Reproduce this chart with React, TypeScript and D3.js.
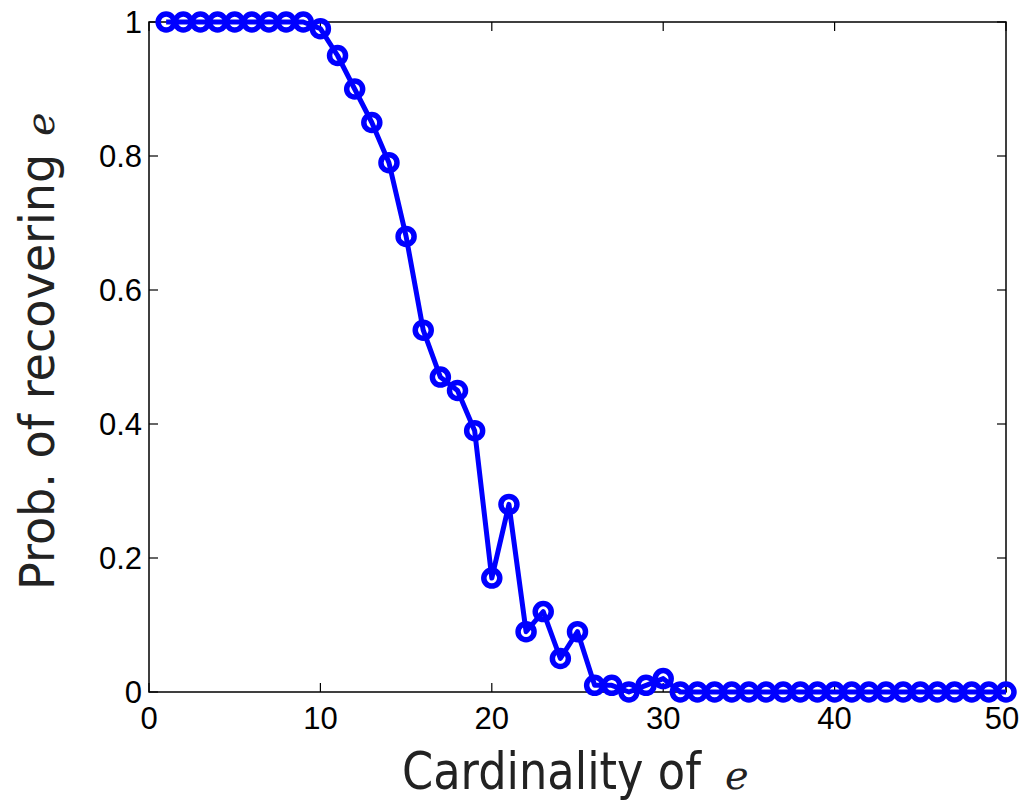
import React from "react";
import * as d3 from "d3";

const cardinality: number[] = Array.from({ length: 50 }, (_, i) => i + 1);
const probRecover: number[] = [
  1, 1, 1, 1, 1, 1, 1, 1, 1, 0.99,
  0.95, 0.9, 0.85, 0.79, 0.68, 0.54, 0.47, 0.45, 0.39, 0.17,
  0.28, 0.09, 0.12, 0.05, 0.09, 0.01, 0.01, 0.0, 0.01, 0.02,
  0, 0, 0, 0, 0, 0, 0, 0, 0, 0,
  0, 0, 0, 0, 0, 0, 0, 0, 0, 0,
];
const xTicks: number[] = [0, 10, 20, 30, 40, 50];
const yTicks: number[] = [0, 0.2, 0.4, 0.6, 0.8, 1];

const W = 1019, H = 801;
const left = 149, right = 1006, top = 22, bottom = 692;

export default function App() {
  const x = d3.scaleLinear().domain([0, 50]).range([left, right]);
  const y = d3.scaleLinear().domain([0, 1]).range([bottom, top]);
  const line = d3.line<number>().x((_, i) => x(cardinality[i])).y((d) => y(d));
  const tickLen = 9;
  const tickFont = "'Liberation Sans', Arial, sans-serif";
  const labelFont = "'DejaVu Sans', sans-serif";
  const mathFont = "'DejaVu Serif', serif";
  return (
    <svg width={W} height={H} style={{ position: "absolute", left: 0, top: 0, background: "#fff" }}>
      <rect x={0} y={0} width={W} height={H} fill="#fff" />
      <rect x={left} y={top} width={right - left} height={bottom - top} fill="none" stroke="#000" strokeWidth={1.5} />
      {xTicks.map((t) => (
        <g key={"xt" + t}>
          <line x1={x(t)} x2={x(t)} y1={bottom} y2={bottom - tickLen} stroke="#000" strokeWidth={1.2} />
          <line x1={x(t)} x2={x(t)} y1={top} y2={top + tickLen} stroke="#000" strokeWidth={1.2} />
          <text x={t === 50 ? x(t) - 4 : x(t)} y={729} textAnchor="middle" fontFamily={tickFont} fontSize={31} fill="#000">{t}</text>
        </g>
      ))}
      {yTicks.map((t) => (
        <g key={"yt" + t}>
          <line x1={left} x2={left + tickLen} y1={y(t)} y2={y(t)} stroke="#000" strokeWidth={1.2} />
          <line x1={right} x2={right - tickLen} y1={y(t)} y2={y(t)} stroke="#000" strokeWidth={1.2} />
          <text x={142} y={y(t) + 11} textAnchor="end" fontFamily={tickFont} fontSize={31} fill="#000">{String(t)}</text>
        </g>
      ))}
      <path d={line(probRecover) || ""} fill="none" stroke="#0000ff" strokeWidth={5} strokeLinejoin="round" />
      {probRecover.map((v, i) => (
        <circle key={i} cx={x(cardinality[i])} cy={y(v)} r={8} fill="none" stroke="#0000ff" strokeWidth={5.5} />
      ))}
      <text transform="translate(402, 789) scale(0.86, 1)" fontFamily={labelFont} fontSize={52} fill="#222">
        Cardinality of
      </text>
      <text x={725} y={789} fontFamily={mathFont} fontStyle="italic" fontSize={40} fill="#222">e</text>
      <text transform="translate(54, 590) rotate(-90) scale(0.96, 1)" fontFamily={labelFont} fontSize={48} fill="#222">
        Prob. of recovering
      </text>
      <text transform="translate(54, 136) rotate(-90)" fontFamily={mathFont} fontStyle="italic" fontSize={40} fill="#222">e</text>
    </svg>
  );
}
